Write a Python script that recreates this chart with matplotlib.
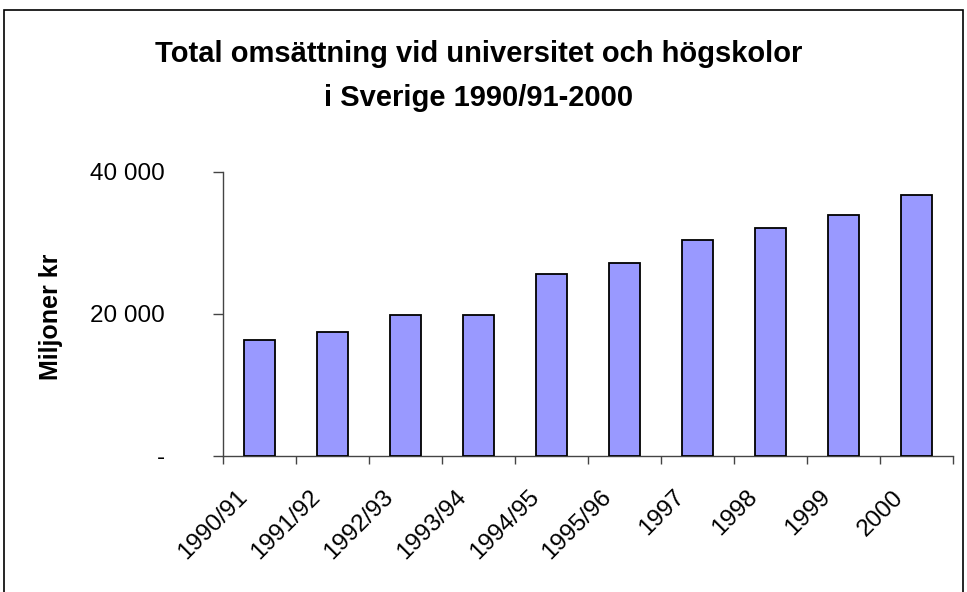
import matplotlib
matplotlib.use("Agg")
import matplotlib.pyplot as plt
import matplotlib.transforms as mtransforms
from matplotlib.patches import Rectangle
from matplotlib.ticker import FixedLocator

plt.rcParams['font.family'] = ['Liberation Sans', 'DejaVu Sans']

categories = ["1990/91", "1991/92", "1992/93", "1993/94", "1994/95",
              "1995/96", "1997", "1998", "1999", "2000"]
values = [16300, 17500, 19800, 19800, 25600, 27100, 30400, 32100, 33900, 36700]
yticks = [0, 20000, 40000]
ytick_labels = ["-", "20 000", "40 000"]

fig = plt.figure(figsize=(9.67, 5.92), dpi=100)
W, H = 967, 592

# outer border
fig.patches.append(Rectangle((4 / W, -0.01), (963 - 4) / W, 1 - 10 / H + 0.01,
                             transform=fig.transFigure, fill=False,
                             edgecolor="black", linewidth=1.2))

ax = fig.add_axes([223.3 / W, 1 - 455.7 / H, (953 - 223.3) / W, (455.7 - 172) / H])
x = list(range(len(categories)))
ax.bar(x, values, width=0.42, color="#9999FF", edgecolor="black", linewidth=1.3, zorder=3)

ax.set_xlim(-0.5, len(categories) - 0.5)
ax.set_ylim(0, 40000)

for s in ["top", "right"]:
    ax.spines[s].set_visible(False)
for s in ["left", "bottom"]:
    ax.spines[s].set_color("#444444")
    ax.spines[s].set_linewidth(1.0)

ax.set_yticks(yticks)
ax.set_yticklabels(ytick_labels, fontsize=17.5)
ax.tick_params(axis="y", direction="out", length=7, width=1.0, color="#444444", pad=35)

ax.set_xticks(x)
ax.set_xticklabels(categories, fontsize=17.5, rotation=45, ha="right",
                   rotation_mode="anchor", va="top")
ax.tick_params(axis="x", which="major", length=0, pad=22)
ax.xaxis.set_minor_locator(FixedLocator([i - 0.5 for i in range(len(categories) + 1)]))
ax.tick_params(axis="x", which="minor", direction="out", length=6, width=1.0, color="#444444")
offset = mtransforms.ScaledTranslation(-24 / 100, 0, fig.dpi_scale_trans)
for lab in ax.get_xticklabels():
    lab.set_transform(lab.get_transform() + offset)

fig.text(51 / W, 1 - 317 / H, "Miljoner kr", rotation=90, fontsize=18,
         fontweight="bold", ha="center", va="center")

fig.text(478.5 / W, 1 - 62 / H, "Total omsättning vid universitet och högskolor",
         fontsize=21, fontweight="bold", ha="center", va="baseline")
fig.text(478.5 / W, 1 - 106 / H, "i Sverige 1990/91-2000",
         fontsize=21, fontweight="bold", ha="center", va="baseline")

fig.savefig("out.png", dpi=100)
